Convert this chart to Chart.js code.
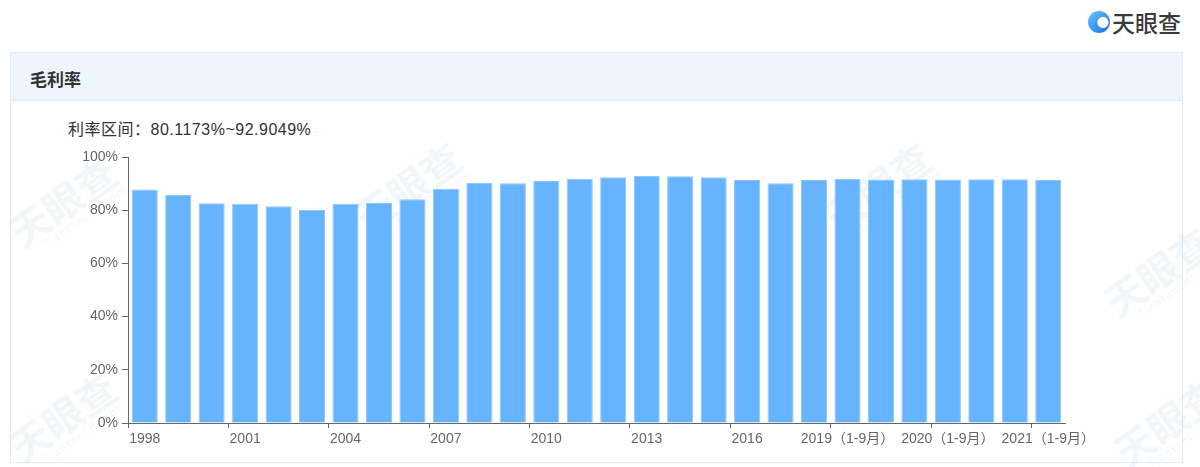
<!DOCTYPE html>
<html>
<head>
<meta charset="utf-8">
<script src="https://cdn.jsdelivr.net/npm/chart.js@4/dist/chart.umd.min.js"></script>
<style>
  body { margin: 0; width: 1200px; height: 467px; background: #fff; overflow: hidden;
         font-family: "Liberation Sans", "Noto Sans CJK SC", sans-serif; position: relative; }
  .logo { position: absolute; left: 1088px; top: 9px; height: 26px; display: flex; align-items: center; }
  .logo-icon { width: 22px; height: 22px; border-radius: 50%;
               background: radial-gradient(circle at 68% 52%, #fff 0 5px, transparent 6px),
                           linear-gradient(135deg, #6cc0ff, #1a73e0); margin-right: 2px; }
  .logo-text { font-family: "Noto Sans CJK SC", sans-serif; font-size: 23px; font-weight: 500; color: #3a3a3a; }
  .panel { position: absolute; left: 10px; top: 52px; width: 1171px; height: 409px;
           border: 1px solid #e2edf8; background: #fff; }
  .panel-head { height: 47px; background: #eef5fc; border-bottom: 1px solid #dfeaf6; }
  .panel-head span { position: absolute; left: 19px; top: 13px; font-family: "Noto Sans CJK SC", sans-serif;
                     font-size: 17px; font-weight: 700; color: #333; }
  .range { position: absolute; left: 68px; top: 116px; font-size: 16px; color: #333; letter-spacing: 0.5px; }
  .range .cn { font-family: "Noto Sans CJK SC", sans-serif; }
  .wm { position: absolute; color: rgba(170, 200, 235, 0.16); font-family: "Noto Sans CJK SC", sans-serif;
        font-weight: 700; font-size: 40px; transform: rotate(-35deg); white-space: nowrap; line-height: 1; }
  .wm small { display: block; font-size: 11px; font-weight: 400; margin-left: 20px; letter-spacing: 1px; }
  .chart-wrap { position: absolute; left: 60px; top: 140px; width: 1040px; height: 320px; }
</style>
</head>
<body>
<div class="logo"><div class="logo-icon"></div><div class="logo-text">天眼查</div></div>
<div class="panel"><div class="panel-head"><span>毛利率</span></div></div>

<div class="wm" style="left:5px; top:180px;">天眼查<small>TianYanCha.com</small></div>
<div class="wm" style="left:350px; top:165px;">天眼查<small>TianYanCha.com</small></div>
<div class="wm" style="left:820px; top:165px;">天眼查<small>TianYanCha.com</small></div>
<div class="wm" style="left:1100px; top:250px;">天眼查<small>TianYanCha.com</small></div>
<div class="wm" style="left:5px; top:395px;">天眼查<small>TianYanCha.com</small></div>
<div class="wm" style="left:1110px; top:400px;">天眼查<small>TianYanCha.com</small></div>

<div class="range"><span class="cn">利率区间：</span>80.1173%~92.9049%</div>

<div class="chart-wrap"><canvas id="marginChart"></canvas></div>

<script>
// categories (only every third one is labelled on the axis)
const categories = [
  "1998", "1999", "2000", "2001", "2002", "2003", "2004", "2005", "2006", "2007",
  "2008", "2009", "2010", "2011", "2012", "2013", "2014", "2015", "2016", "2017",
  "2018", "2019（1-9月）", "2019", "2020（1-6月）", "2020（1-9月）", "2020", "2021（1-6月）", "2021（1-9月）"
];

// gross margin, %
const grossMargin = [
  87.8, 85.7, 82.6, 82.4, 81.5, 80.1, 82.4, 82.7, 84.1, 88.1,
  90.2, 90.1, 91.0, 91.8, 92.4, 92.9, 92.8, 92.4, 91.4, 90.1,
  91.4, 91.7, 91.5, 91.6, 91.5, 91.6, 91.6, 91.4
];

// y axis ticks
const yTicks = [0, 20, 40, 60, 80, 100];

const AXIS = "#666";
const FONT = { family: "'Liberation Sans', 'Noto Sans CJK SC', sans-serif", size: 14 };

function buildChart() {
  const ctx = document.getElementById("marginChart").getContext("2d");

  new Chart(ctx, {
    type: "bar",
    data: {
      labels: categories,
      datasets: [{
        data: grossMargin,
        backgroundColor: "#66b3ff",
        borderColor: "#8ec6fb",
        borderWidth: 1,
        barPercentage: 0.78,
        categoryPercentage: 1
      }]
    },
    options: {
      responsive: true,
      maintainAspectRatio: false,
      animation: false,
      layout: { padding: { top: 17, right: 35, bottom: 0, left: 0 } },
      plugins: { legend: { display: false }, tooltip: { enabled: false } },
      scales: {
        x: {
          offset: true,
          grid: {
            offset: true,
            drawOnChartArea: false,
            tickLength: 5,
            color: (c) => (c.index % 3 === 0 ? AXIS : "rgba(0,0,0,0)")
          },
          border: { color: AXIS },
          ticks: {
            autoSkip: false,
            maxRotation: 0,
            padding: 3,
            color: AXIS,
            font: FONT,
            callback: (v, i) => (i % 3 === 0 ? categories[i] : "")
          },
          afterFit: (scale) => { scale.paddingLeft = 0; scale.paddingRight = 0; scale.height = 37; }
        },
        y: {
          min: 0,
          max: 100,
          afterBuildTicks: (scale) => { scale.ticks = yTicks.map(v => ({ value: v })); },
          grid: { drawOnChartArea: false, tickLength: 6, color: AXIS },
          border: { color: AXIS },
          ticks: {
            padding: 4,
            color: AXIS,
            font: FONT,
            callback: (v) => v + "%"
          },
          afterFit: (scale) => { scale.width = 68; }
        }
      }
    }
  });
}

document.addEventListener("DOMContentLoaded", buildChart);
</script>
</body>
</html>
